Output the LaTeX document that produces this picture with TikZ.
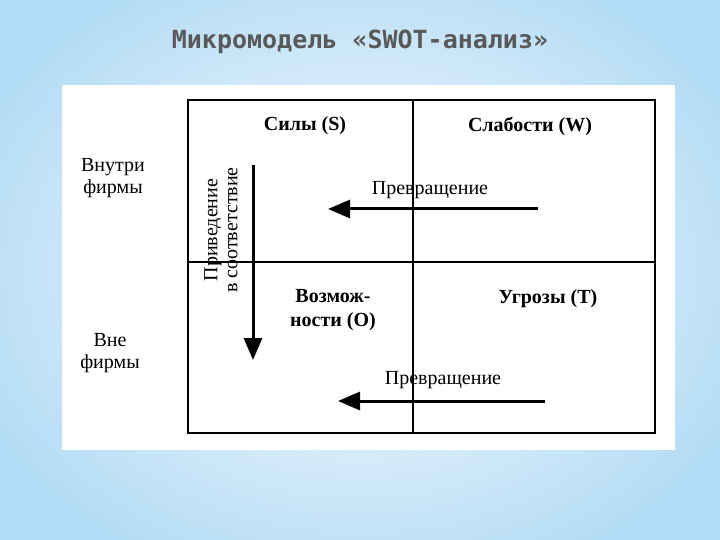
\documentclass[tikz,border=0pt]{standalone}
\usepackage{fontspec}
\setmainfont{Liberation Serif}
\newfontfamily\titlefont{DejaVu Sans Mono}
\usetikzlibrary{arrows.meta}
\begin{document}
\begin{tikzpicture}[x=1pt,y=-1pt,
  lbl/.style={font=\fontsize{20}{22}\selectfont, align=center, inner sep=0pt},
  hd/.style={font=\bfseries\fontsize{20}{24}\selectfont, align=center, inner sep=0pt},
  arr/.style={line width=3pt, -{Triangle[length=22pt,width=18pt]}}]
\useasboundingbox (0,0) rectangle (720,540);
\shade[inner color=white, outer color={rgb,1:red,0.70;green,0.86;blue,0.96}] (-60,-60) rectangle (780,600);
\fill[white] (62,85) rectangle (675,450);
\node[font=\titlefont\bfseries\fontsize{25}{30}\selectfont, text={rgb,1:red,0.35;green,0.35;blue,0.35}] (title) at (360,42) {Микромодель «SWOT-анализ»};
\draw[line width=1.5pt] (188,100) rectangle (655,433);
\draw[line width=1.5pt] (188,262) -- (655,262);
\draw[line width=1.5pt] (413,100) -- (413,433);
\node[hd] (s) at (305,126) {Силы (S)};
\node[hd] (w) at (530,126) {Слабости (W)};
\node[hd] (o) at (333,310) {Возмож-\\ности (O)};
\node[hd] (t) at (548,299) {Угрозы (T)};
\node[lbl] (in) at (113,178) {Внутри\\фирмы};
\node[lbl] (out) at (110,353) {Вне\\фирмы};
\node[font=\fontsize{20}{20}\selectfont, align=center, inner sep=0pt, rotate=90] (adj) at (221,230) {Приведение\\в соответствие};
\node[lbl] (p1) at (430,190) {Превращение};
\node[lbl] (p2) at (443,380) {Превращение};
\coordinate (a1s) at (253,165); \coordinate (a1e) at (253,360);
\coordinate (a2s) at (538,209); \coordinate (a2e) at (328,209);
\coordinate (a3s) at (545,401); \coordinate (a3e) at (338,401);
\draw[arr] (a1s) -- (a1e);
\draw[arr] (a2s) -- (a2e);
\draw[arr] (a3s) -- (a3e);
\end{tikzpicture}
\end{document}
